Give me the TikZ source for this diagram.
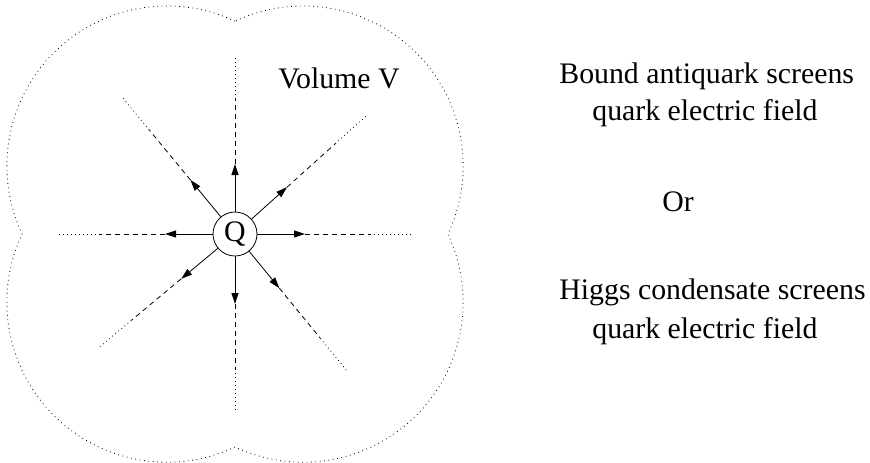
\documentclass[tikz,border=0pt]{standalone}
\usepackage{fontspec}
\setmainfont{Liberation Serif}
\usetikzlibrary{arrows.meta,calc}

\begin{document}
\begin{tikzpicture}[x=0.5pt, y=0.5pt,
  txt/.style={font=\fontsize{14.9}{18}\selectfont, inner sep=0pt, anchor=base west},
  charge/.style={draw, circle, minimum size=22pt, inner sep=0pt, font=\fontsize{14.9}{18}\selectfont},
  field/.style={-{Triangle[length=5.5pt, width=3.5pt]}},
  fade/.style={dash pattern=on 2.5pt off 2pt},
  faint/.style={dash pattern=on 0.4pt off 1.6pt},
  outline/.style={dash pattern=on 0.4pt off 1.8pt}]
\useasboundingbox (-235,-228) rectangle (635,234);

% the screened volume
\draw[outline] (0,212.8) arc[start angle=64.8, end angle=205.2, radius=80pt]
  arc[start angle=154.8, end angle=295.2, radius=80pt]
  arc[start angle=244.8, end angle=385.2, radius=80pt]
  arc[start angle=-25.2, end angle=115.2, radius=80pt] -- cycle;

\node[charge] (Q) at (0,0) {Q};
\node[txt] (vol) at (43,146) {Volume V};

% field lines of the quark
\foreach \a/\n in {90/n, 42/ne, 0/e, 309.3/se, 270/s, 219.8/sw, 180/w, 129.5/nw} {
  \coordinate (\n1) at ($(Q)+(\a:70)$);
  \coordinate (\n2) at ($(Q)+(\a:135)$);
  \coordinate (\n3) at ($(Q)+(\a:178)$);
  \draw[field] (Q) -- (\n1);
  \draw[fade] (\n1) -- (\n2);
  \draw[faint] (\n2) -- (\n3);
}

\node[txt] (bound)  at (324,151) {Bound antiquark screens};
\node[txt] (quark1) at (357,114) {quark electric field};
\node[txt] (or)     at (427,23)  {Or};
\node[txt] (higgs)  at (324,-65) {Higgs condensate screens};
\node[txt] (quark2) at (357,-104) {quark electric field};
\end{tikzpicture}
\end{document}
